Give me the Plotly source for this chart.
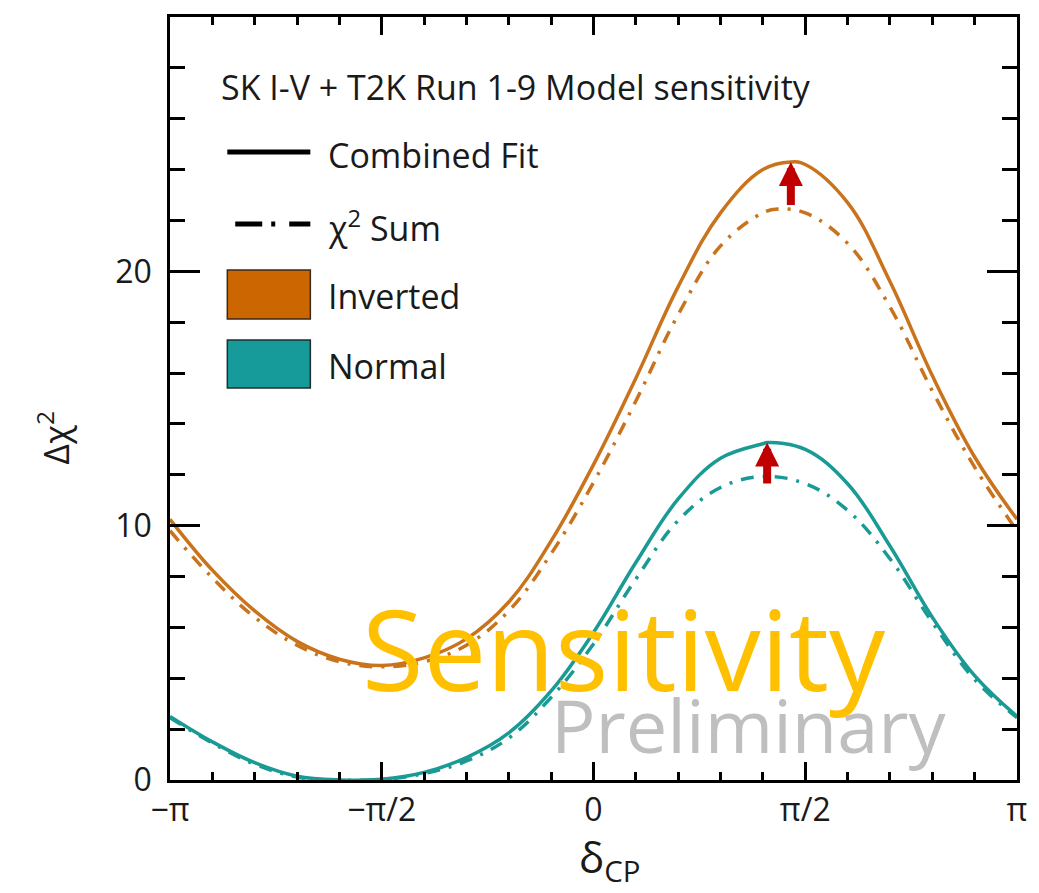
import numpy as np
import plotly.graph_objects as go

PI = np.pi

# delta_CP sample points, in units of pi
k_pts = [-1.0, -0.9, -0.8, -0.7, -0.6, -0.5, -0.4, -0.3, -0.2, -0.1, 0.0,
         0.1, 0.2, 0.3, 0.4, 0.5, 0.6, 0.7, 0.8, 0.9, 1.0]

# Inverted ordering
ih_fit_k = k_pts[:15] + [0.466] + k_pts[15:]
ih_fit = [10.25, 8.25, 6.65, 5.45, 4.75, 4.5, 4.8, 5.55, 7.0, 9.4, 12.4,
          15.8, 19.4, 22.3, 24.0, 24.3, 24.2, 22.7, 19.6, 15.9, 12.7, 10.25]
ih_sum_k = k_pts[:15] + [0.435] + k_pts[15:]
ih_sum = [9.8, 7.95, 6.4, 5.3, 4.65, 4.45, 4.65, 5.3, 6.65, 8.9, 11.7,
          14.9, 18.3, 21.0, 22.3, 22.45, 22.3, 21.1, 18.6, 15.3, 12.3, 9.8]

# Normal ordering
nh_fit_k = k_pts[:15] + [0.41] + k_pts[15:]
nh_fit = [2.5, 1.5, 0.68, 0.15, 0.0, 0.03, 0.3, 0.88, 1.85, 3.5, 5.8,
          8.55, 11.05, 12.65, 13.22, 13.27, 13.0, 11.65, 9.2, 6.4, 4.1, 2.5]
nh_sum_k = k_pts
nh_sum = [2.45, 1.45, 0.62, 0.12, 0.0, 0.02, 0.25, 0.75, 1.65, 3.25, 5.35,
          7.9, 10.2, 11.5, 11.93, 11.65, 10.6, 8.7, 6.2, 3.95, 2.45]

# Arrows marking the gain of the combined fit over the chi2 sum
arrow_x = [0.466, 0.41]           # in units of pi
arrow_from = [22.55, 11.6]
arrow_to = [24.3, 13.27]

x_tickvals_k = [-1.0, -0.5, 0.0, 0.5, 1.0]
x_ticktext = ["\u2212\u03c0", "\u2212\u03c0/2", "0", "\u03c0/2", "\u03c0"]

ORANGE_LINE = "#C9731C"
TEAL_LINE = "#1A9A94"
ORANGE_BOX = "#CC6600"
TEAL_BOX = "#169A9A"
FONT = "Open Sans"
DASHDOT = "13px,9px,3px,9px"

fig = go.Figure()

def add_curve(kk, vals, color, dash):
    fig.add_trace(go.Scatter(
        x=np.array(kk) * PI, y=vals, mode="lines",
        line=dict(color=color, width=3.5, dash=dash, shape="spline", smoothing=1.1),
        showlegend=False, hoverinfo="skip"))

add_curve(ih_sum_k, ih_sum, ORANGE_LINE, DASHDOT)
add_curve(nh_sum_k, nh_sum, TEAL_LINE, DASHDOT)
add_curve(ih_fit_k, ih_fit, ORANGE_LINE, "solid")
add_curve(nh_fit_k, nh_fit, TEAL_LINE, "solid")

for xa, y0, y1 in zip(arrow_x, arrow_from, arrow_to):
    fig.add_annotation(x=xa * PI, y=y1, ax=xa * PI, ay=y0, xref="x", yref="y",
                       axref="x", ayref="y", text="", showarrow=True,
                       arrowhead=2, arrowsize=0.6, arrowwidth=8,
                       arrowcolor="#C00000", standoff=0)

# axis geometry (pixels) for paper-coordinate placement of decorations
W, H = 1039, 893
L, R, T, B = 170, 12, 17, 113
PW, PH = W - L - R, H - T - B

def px(x):
    return (x - L) / PW

def py(y):
    return (H - B - y) / PH

# hand-drawn legend
fig.add_shape(type="line", xref="paper", yref="paper", x0=px(228), x1=px(312),
              y0=py(152), y1=py(152), line=dict(color="black", width=5))
fig.add_shape(type="line", xref="paper", yref="paper", x0=px(236), x1=px(312),
              y0=py(224), y1=py(224), line=dict(color="black", width=5, dash="27px,9px,4px,14px"))
fig.add_shape(type="rect", xref="paper", yref="paper", x0=px(228), x1=px(312),
              y0=py(319), y1=py(270), fillcolor=ORANGE_BOX, line=dict(color="#3a2a1a", width=1.5))
fig.add_shape(type="rect", xref="paper", yref="paper", x0=px(228), x1=px(312),
              y0=py(388), y1=py(340), fillcolor=TEAL_BOX, line=dict(color="#1f2f2f", width=1.5))

def label(text, x, y, size=34, color="#1a1a1a", xanchor="left", angle=0, family=FONT):
    fig.add_annotation(text=text, x=px(x), y=py(y), xref="paper", yref="paper",
                       showarrow=False, xanchor=xanchor, yanchor="middle",
                       textangle=angle, font=dict(family=family, size=size, color=color))

label("SK I-V + T2K Run 1-9 Model sensitivity", 220, 87, size=34)
label("Combined Fit", 328, 155)
label("\u03c7<sup>2</sup> Sum", 328, 226)
label("Inverted", 328, 296)
label("Normal", 328, 366)

# axis titles
label("\u0394\u03c7<sup>2</sup>", 52, 438, size=35, xanchor="center", angle=-90)
label("\u03b4<sub>CP</sub>", 615, 860, size=42, xanchor="center")

# watermark texts
label("Sensitivity", 629, 647, size=112, color="#FFC000", xanchor="center")
label("Preliminary", 756, 724, size=74, color="#BFBFBF", xanchor="center")

minor_x = [k * PI / 10 for k in range(-10, 11) if k % 5 != 0]

fig.update_xaxes(
    range=[-PI, PI], tickmode="array", tickvals=[v * PI for v in x_tickvals_k],
    ticktext=x_ticktext, ticks="inside", ticklen=18, tickwidth=2.5, tickcolor="black",
    showline=True, linewidth=2.5, linecolor="black", mirror="ticks", showgrid=False,
    zeroline=False, tickfont=dict(family=FONT, size=32, color="#1a1a1a"),
    ticklabelstandoff=0,
    minor=dict(tickmode="array", tickvals=minor_x, ticks="inside", ticklen=8,
               tickwidth=2.5, tickcolor="black", showgrid=False))
fig.update_yaxes(
    range=[0, 30], tick0=0, dtick=10, ticks="inside", ticklen=30, tickwidth=2.5,
    tickcolor="black", showline=True, linewidth=2.5, linecolor="black", mirror="ticks",
    showgrid=False, zeroline=False, tickfont=dict(family=FONT, size=32, color="#1a1a1a"),
    ticklabelstandoff=9,
    minor=dict(dtick=2, tick0=0, ticks="inside", ticklen=15, tickwidth=2.5,
               tickcolor="black", showgrid=False))

fig.update_layout(width=W, height=H, margin=dict(l=L, r=R, t=T, b=B),
                  paper_bgcolor="white", plot_bgcolor="white", showlegend=False)

fig.write_html("out.html")
